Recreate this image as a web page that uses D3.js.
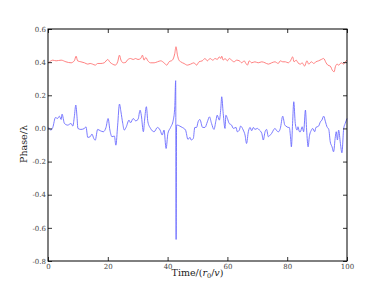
<!DOCTYPE html>
<html>
<head>
<meta charset="utf-8">
<script src="https://cdn.jsdelivr.net/npm/d3@7"></script>
<style>
  body { margin: 0; background: #fff; }
  svg { display: block; }
  .tick text { font-family: "DejaVu Serif", serif; font-size: 7px; fill: #444; }
</style>
</head>
<body>
<div id="container"></div>
<script>
// Declare the chart dimensions and margins.
const width = 386;
const height = 291;
const marginTop = 29;
const marginRight = 38;
const marginBottom = 30;
const marginLeft = 48;

// axis ticks
const xTicks = [0, 20, 40, 60, 80, 100];
const yTicks = [-0.8, -0.6, -0.4, -0.2, 0.0, 0.2, 0.4, 0.6];

// red series (upper trace), time / phase
const redTime = [0.2, 1.6, 2.7, 4.4, 6.0, 7.7, 8.8, 9.4, 9.9, 11.0, 12.2, 13.3, 14.1, 14.9, 15.8, 16.6, 17.7, 18.8, 20.0, 20.7,
  21.6, 22.5, 23.3, 23.9, 24.4, 25.2, 26.1, 26.5, 27.6, 28.5, 29.3, 30.1, 31.0, 31.6, 32.1, 32.7, 33.4, 34.3, 35.5, 36.6,
  37.7, 38.8, 39.7, 40.5, 41.6, 42.4, 42.8, 43.3, 43.8, 44.4, 45.5, 46.6, 47.7, 48.8, 49.7, 50.5, 51.6, 52.5, 53.3, 54.2,
  55.1, 55.9, 56.6, 57.3, 57.8, 58.1, 58.6, 59.2, 60.0, 60.6, 61.4, 62.2, 63.1, 64.0, 64.8, 65.6, 66.2, 66.7, 67.3, 68.1,
  69.2, 70.3, 71.5, 72.6, 73.7, 74.8, 75.9, 77.0, 77.7, 78.5, 79.4, 80.3, 81.1, 81.8, 82.3, 83.0, 83.6, 84.4, 85.0, 85.8,
  86.6, 87.2, 88.1, 88.9, 89.6, 90.5, 91.4, 92.2, 93.0, 93.6, 94.4, 95.2, 95.7, 96.1, 96.7, 97.2, 98.1, 98.9, 99.4, 100];
const redPhase = [0.396, 0.412, 0.408, 0.412, 0.402, 0.396, 0.408, 0.436, 0.408, 0.402, 0.396, 0.388, 0.392, 0.388, 0.382, 0.392, 0.392, 0.396, 0.416, 0.400,
  0.388, 0.382, 0.402, 0.442, 0.412, 0.396, 0.400, 0.412, 0.422, 0.416, 0.422, 0.416, 0.422, 0.442, 0.412, 0.428, 0.408, 0.396, 0.396, 0.402,
  0.408, 0.396, 0.382, 0.402, 0.412, 0.452, 0.493, 0.442, 0.412, 0.402, 0.392, 0.382, 0.388, 0.396, 0.382, 0.402, 0.408, 0.422, 0.408, 0.422,
  0.412, 0.422, 0.416, 0.432, 0.422, 0.436, 0.412, 0.422, 0.408, 0.422, 0.412, 0.402, 0.412, 0.408, 0.396, 0.408, 0.392, 0.382, 0.408, 0.396,
  0.402, 0.396, 0.402, 0.396, 0.388, 0.396, 0.402, 0.392, 0.408, 0.402, 0.402, 0.396, 0.408, 0.432, 0.402, 0.412, 0.396, 0.388, 0.396, 0.376,
  0.408, 0.388, 0.402, 0.392, 0.402, 0.408, 0.416, 0.422, 0.396, 0.382, 0.376, 0.348, 0.342, 0.372, 0.388, 0.382, 0.396, 0.388, 0.402, 0.412];

// blue series (lower trace), time / phase
const blueTime = [0.2, 1.0, 1.6, 2.5, 3.2, 3.8, 4.4, 4.7, 5.5, 6.6, 7.7, 8.3, 8.8, 9.3, 9.7, 10.0, 11.0, 12.2, 12.7, 13.3,
  14.1, 14.7, 15.3, 15.8, 16.6, 17.5, 18.5, 19.4, 20.1, 20.7, 21.4, 22.2, 22.7, 23.3, 23.9, 24.4, 25.0, 25.5, 26.1, 27.1,
  27.6, 28.5, 29.3, 30.1, 30.8, 31.2, 31.9, 32.3, 32.9, 33.4, 34.3, 35.5, 36.6, 37.5, 38.2, 38.8, 39.5, 40.1, 41.0, 41.9,
  42.4, 42.7, 42.85, 43.0, 43.3, 44.1, 44.9, 46.0, 46.8, 47.5, 47.9, 48.6, 49.1, 49.7, 50.2, 50.8, 51.7, 52.5, 53.3, 54.0,
  54.7, 55.5, 56.2, 56.6, 57.3, 57.8, 58.1, 58.6, 59.2, 59.5, 60.0, 60.6, 61.4, 62.0, 62.9, 63.3, 64.0, 64.4, 65.3, 65.9,
  66.4, 67.0, 67.6, 68.1, 68.7, 69.2, 70.0, 70.7, 71.5, 72.0, 72.6, 73.1, 73.7, 74.3, 74.8, 75.4, 75.9, 76.5, 77.1, 77.7,
  78.5, 79.2, 79.6, 80.3, 80.7, 81.1, 81.4, 81.8, 82.2, 82.7, 83.3, 83.6, 84.1, 84.4, 85.0, 85.5, 86.1, 86.5, 87.0, 87.4,
  88.1, 88.5, 89.2, 89.6, 90.5, 91.1, 91.6, 92.2, 92.8, 93.3, 93.9, 94.4, 95.0, 95.5, 96.1, 96.4, 96.8, 97.2, 97.8, 98.3,
  98.9, 99.4, 100];
const bluePhase = [0.006, -0.010, 0.006, 0.066, 0.060, 0.074, 0.054, 0.086, 0.030, 0.020, 0.030, 0.014, 0.070, 0.141, 0.070, 0.0, -0.006, 0.0, 0.010, -0.054,
  -0.050, -0.034, -0.060, -0.071, -0.006, -0.014, -0.020, 0.006, 0.060, -0.010, -0.050, -0.046, -0.101, 0.020, 0.147, 0.100, 0.030, -0.010, 0.006, 0.050,
  0.034, 0.060, 0.046, 0.054, 0.110, 0.080, -0.020, 0.050, 0.131, 0.040, 0.0, -0.020, 0.006, -0.010, -0.040, -0.010, -0.121, -0.030, 0.006, 0.050,
  0.131, 0.288, -0.670, 0.020, 0.020, 0.014, 0.006, -0.010, -0.066, -0.054, -0.070, -0.060, 0.006, 0.006, 0.040, 0.054, 0.006, 0.006, 0.040, 0.070,
  0.030, -0.006, 0.050, 0.080, 0.050, 0.121, 0.191, 0.090, 0.0, 0.080, 0.060, 0.030, 0.020, 0.0, 0.006, -0.020, -0.010, 0.014, -0.010, -0.040,
  -0.091, -0.020, 0.006, -0.014, 0.006, -0.006, 0.0, -0.010, -0.030, -0.070, -0.020, -0.006, -0.050, -0.040, -0.030, -0.010, 0.0, -0.014, -0.020, 0.0,
  0.074, 0.020, 0.014, 0.006, 0.006, -0.050, -0.111, 0.030, 0.161, 0.030, -0.010, 0.010, -0.020, -0.020, 0.010, -0.020, 0.111, -0.010, -0.111, -0.050,
  -0.010, 0.0, -0.020, 0.006, 0.014, 0.040, 0.050, 0.074, 0.040, 0.010, -0.006, -0.081, -0.111, -0.141, -0.050, -0.020, -0.070, -0.010, -0.091, -0.147,
  0.0, 0.030, 0.060];

const red = redTime.map((t, i) => ({ t, v: redPhase[i] }));
const blue = blueTime.map((t, i) => ({ t, v: bluePhase[i] }));

// Declare the x (horizontal position) scale.
const x = d3.scaleLinear()
    .domain([0, 100])
    .range([marginLeft, width - marginRight - 1]);

// Declare the y (vertical position) scale.
const y = d3.scaleLinear()
    .domain([-0.8, 0.6])
    .range([height - marginBottom, marginTop]);

// smooth curve without overshoot (keeps the spike thin)
const line = d3.line()
    .curve(d3.curveMonotoneX)
    .x(d => x(d.t))
    .y(d => y(d.v));

// Create the SVG container.
const svg = d3.select("#container").append("svg")
    .attr("width", width)
    .attr("height", height)
    .attr("viewBox", [0, 0, width, height]);

svg.append("rect")
    .attr("width", width)
    .attr("height", height)
    .attr("fill", "#fff");

// the two traces
svg.append("path")
    .datum(red)
    .attr("fill", "none")
    .attr("stroke", "#ff7373")
    .attr("stroke-width", 0.9)
    .attr("d", line);

svg.append("path")
    .datum(blue)
    .attr("fill", "none")
    .attr("stroke", "#6b6bff")
    .attr("stroke-width", 0.9)
    .attr("d", line);

// axes, ticks pointing inward like matplotlib
const fmt = d => d3.format(".1f")(d).replace("−", "-");

svg.append("g")
    .attr("transform", `translate(0,${y(-0.8)})`)
    .call(d3.axisBottom(x).tickValues(xTicks).tickSizeInner(-4).tickSizeOuter(0).tickPadding(3).tickFormat(d3.format("d")))
    .call(g => g.select(".domain").remove());

svg.append("g")
    .attr("transform", `translate(${x(0)},0)`)
    .call(d3.axisLeft(y).tickValues(yTicks).tickSizeInner(-4).tickSizeOuter(0).tickPadding(2).tickFormat(fmt))
    .call(g => g.select(".domain").remove());

svg.append("g")
    .attr("transform", `translate(0,${y(0.6)})`)
    .call(d3.axisTop(x).tickValues(xTicks).tickSizeInner(-4).tickSizeOuter(0).tickFormat(""))
    .call(g => g.select(".domain").remove());

svg.append("g")
    .attr("transform", `translate(${x(100)},0)`)
    .call(d3.axisRight(y).tickValues(yTicks).tickSizeInner(-4).tickSizeOuter(0).tickFormat(""))
    .call(g => g.select(".domain").remove());

svg.selectAll(".tick line").attr("stroke", "#000").attr("stroke-width", 0.8);

// frame
svg.append("rect")
    .attr("x", x(0))
    .attr("y", y(0.6))
    .attr("width", x(100) - x(0))
    .attr("height", y(-0.8) - y(0.6))
    .attr("fill", "none")
    .attr("stroke", "#000")
    .attr("stroke-width", 1);

// axis labels
const xLabel = svg.append("text")
    .attr("x", (x(0) + x(100)) / 2)
    .attr("y", 276)
    .attr("text-anchor", "middle")
    .attr("font-family", "DejaVu Serif, serif")
    .attr("font-size", 9.5)
    .attr("fill", "#222");
xLabel.append("tspan").text("Time/(");
xLabel.append("tspan").attr("font-style", "italic").text("r");
xLabel.append("tspan").attr("font-size", 6.5).attr("dy", 2).text("0");
xLabel.append("tspan").attr("dy", -2).text("/");
xLabel.append("tspan").attr("font-style", "italic").text("v");
xLabel.append("tspan").text(")");

svg.append("text")
    .attr("transform", `translate(27,${(y(0.6) + y(-0.8)) / 2 - 1}) rotate(-90)`)
    .attr("text-anchor", "middle")
    .attr("font-family", "DejaVu Serif, serif")
    .attr("font-size", 9.5)
    .attr("fill", "#222")
    .text("Phase/λ");
</script>
</body>
</html>
